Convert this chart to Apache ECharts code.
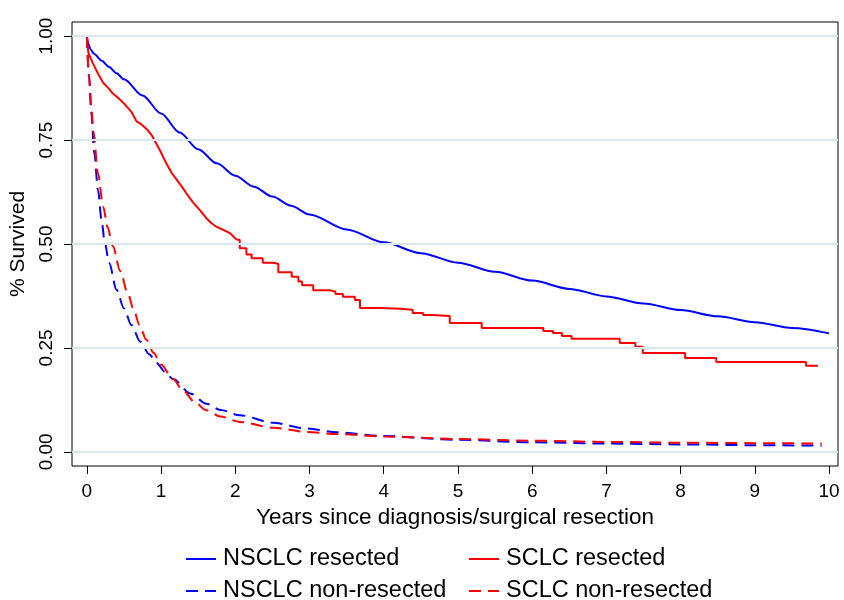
<!DOCTYPE html>
<html>
<head>
<meta charset="utf-8">
<script src="https://cdn.jsdelivr.net/npm/echarts@6/dist/echarts.min.js"></script>
<style>
  html, body { margin: 0; padding: 0; background: #fff; }
  #container { width: 844px; height: 600px; }
</style>
</head>
<body>
<div id="container"></div>
<script>
// 生存曲线数据
var xTicks = [0, 1, 2, 3, 4, 5, 6, 7, 8, 9, 10];
var yTicks = [0, 0.25, 0.5, 0.75, 1];

// NSCLC resected
var nsclcResX = [0, 0.02, 0.05, 0.1, 0.2, 0.3, 0.4, 0.5, 0.75, 1.0, 1.25, 1.5, 1.75, 2.0, 2.25, 2.5, 2.75, 3.0, 3.5, 4.0, 4.5, 5.0, 5.5, 6.0, 6.5, 7.0, 7.5, 8.0, 8.5, 9.0, 9.5, 10.0];
var nsclcResY = [1.0, 0.982, 0.968, 0.957, 0.941, 0.926, 0.911, 0.896, 0.857, 0.814, 0.768, 0.728, 0.694, 0.664, 0.638, 0.614, 0.592, 0.571, 0.535, 0.504, 0.478, 0.455, 0.433, 0.412, 0.392, 0.374, 0.357, 0.341, 0.326, 0.312, 0.298, 0.285];

// SCLC resected: 前段 (细小台阶, 画成折线)
var sclcResEarlyX = [0, 0.02, 0.08, 0.15, 0.22, 0.3, 0.35, 0.42, 0.49, 0.55, 0.6, 0.67, 0.74, 0.82, 0.88, 0.94, 1.0, 1.07, 1.14, 1.21, 1.28, 1.34, 1.43, 1.52, 1.61, 1.68, 1.75, 1.85, 1.93, 2.02];
var sclcResEarlyY = [1.0, 0.96, 0.935, 0.91, 0.888, 0.873, 0.862, 0.852, 0.84, 0.828, 0.818, 0.795, 0.787, 0.774, 0.76, 0.74, 0.72, 0.694, 0.672, 0.655, 0.638, 0.622, 0.6, 0.582, 0.562, 0.55, 0.541, 0.533, 0.526, 0.51];
// SCLC resected: 后段 (阶梯)
var sclcResLateX = [2.02, 2.06, 2.15, 2.22, 2.37, 2.52, 2.58, 2.76, 2.85, 2.9, 3.05, 3.27, 3.35, 3.45, 3.61, 3.68, 3.95, 4.22, 4.39, 4.53, 4.65, 4.89, 5.32, 6.15, 6.28, 6.4, 6.53, 7.18, 7.39, 7.49, 8.06, 8.48, 9.69, 9.85];
var sclcResLateY = [0.51, 0.49, 0.475, 0.466, 0.455, 0.452, 0.432, 0.421, 0.41, 0.401, 0.389, 0.385, 0.38, 0.373, 0.365, 0.346, 0.344, 0.342, 0.334, 0.329, 0.327, 0.31, 0.298, 0.291, 0.286, 0.279, 0.272, 0.262, 0.253, 0.238, 0.226, 0.216, 0.207, 0.207];

// NSCLC non-resected
var nsclcNonX = [0, 0.03, 0.06, 0.1, 0.15, 0.2, 0.24, 0.3, 0.4, 0.5, 0.6, 0.72, 0.84, 0.94, 1.05, 1.16, 1.4, 1.61, 1.8, 2.06, 2.51, 2.96, 3.37, 4, 5, 6, 7, 8, 9, 9.9];
var nsclcNonY = [1.0, 0.905, 0.815, 0.72, 0.63, 0.555, 0.505, 0.455, 0.39, 0.345, 0.305, 0.265, 0.235, 0.214, 0.193, 0.175, 0.14, 0.116, 0.101, 0.088, 0.07, 0.056, 0.047, 0.038, 0.029, 0.023, 0.02, 0.018, 0.016, 0.015];

// SCLC non-resected
var sclcNonX = [0, 0.03, 0.06, 0.09, 0.15, 0.22, 0.28, 0.35, 0.45, 0.55, 0.63, 0.71, 0.8, 0.9, 1.0, 1.16, 1.3, 1.45, 1.61, 1.8, 2.06, 2.51, 2.96, 3.37, 4, 5, 6, 7, 8, 9, 9.9];
var sclcNonY = [1.0, 0.9, 0.83, 0.77, 0.67, 0.59, 0.54, 0.495, 0.435, 0.382, 0.343, 0.305, 0.27, 0.238, 0.21, 0.175, 0.147, 0.12, 0.1, 0.085, 0.072, 0.058, 0.048, 0.043, 0.037, 0.031, 0.027, 0.024, 0.022, 0.021, 0.02];

function pairs(xs, ys) {
    var out = [];
    for (var i = 0; i < xs.length; i++) {
        out.push([xs[i], ys[i]]);
    }
    return out;
}

var FONT = '"Liberation Sans", Arial, sans-serif';
var BLUE = '#0000ff';
var RED = '#ff0000';

// 图例: 2x2, 每个图例只放一项, 避免自动换行
function legendAt(name, left, top) {
    return {
        left: left, top: top, padding: 0,
        itemWidth: 30, itemHeight: 14,
        itemStyle: {color: 'rgba(0,0,0,0)', borderColor: 'rgba(0,0,0,0)', borderWidth: 0},
        textStyle: {fontSize: 23.5, lineHeight: 18, color: '#000', fontFamily: FONT, padding: [0, 0, 0, 2]},
        data: [name]
    };
}

var dom = document.getElementById("container");
var myChart = echarts.init(dom, null, {renderer: 'canvas'});
var option = {
    animation: false,
    textStyle: {fontFamily: FONT, color: '#000'},
    grid: {
        left: 72, top: 22, right: 6, bottom: 134,
        show: true, borderColor: '#000', borderWidth: 1, backgroundColor: 'transparent'
    },
    legend: [
        legendAt('NSCLC resected', 185, 547),
        legendAt('NSCLC non-resected', 185, 579),
        legendAt('SCLC resected', 468, 547),
        legendAt('SCLC non-resected', 468, 579)
    ],
    xAxis: {
        type: 'value',
        min: -0.2,
        max: 10.12,
        name: 'Years since diagnosis/surgical resection',
        nameLocation: 'middle',
        nameGap: 36,
        nameTextStyle: {fontSize: 22.5, color: '#000', fontFamily: FONT},
        axisLine: {show: false, onZero: false},
        axisTick: {show: true, customValues: xTicks, length: 8, lineStyle: {color: '#000'}},
        axisLabel: {customValues: xTicks, fontSize: 19, color: '#000', margin: 16, fontFamily: FONT},
        splitLine: {show: false}
    },
    yAxis: {
        type: 'value',
        min: -0.034,
        max: 1.034,
        name: '% Survived',
        nameLocation: 'middle',
        nameGap: 40,
        nameTextStyle: {fontSize: 21, color: '#000', fontFamily: FONT},
        axisLine: {show: false, onZero: false},
        axisTick: {show: true, customValues: yTicks, length: 8, lineStyle: {color: '#000'}},
        axisLabel: {
            customValues: yTicks, rotate: 90, fontSize: 19, color: '#000', margin: 16, fontFamily: FONT,
            formatter: function (v) { return v.toFixed(2); }
        },
        splitLine: {show: false}
    },
    series: [
        {
            // 网格线
            name: 'grid',
            type: 'line',
            data: [],
            z: 1,
            silent: true,
            markLine: {
                silent: true,
                symbol: ['none', 'none'],
                label: {show: false},
                lineStyle: {color: '#d6e7ee', width: 2, type: 'solid'},
                data: yTicks.map(function (v) { return {yAxis: v}; })
            }
        },
        {
            name: 'NSCLC resected',
            type: 'line',
            z: 3,
            data: pairs(nsclcResX, nsclcResY),
            showSymbol: false, symbol: 'none',
            smooth: 0.3, smoothMonotone: 'x',
            lineStyle: {color: BLUE, width: 2},
            itemStyle: {color: BLUE}
        },
        {
            name: 'NSCLC non-resected',
            type: 'line',
            z: 2,
            data: pairs(nsclcNonX, nsclcNonY),
            showSymbol: false, symbol: 'none',
            smooth: 0.3, smoothMonotone: 'x',
            lineStyle: {color: BLUE, width: 2, type: [12, 7]},
            itemStyle: {color: BLUE}
        },
        {
            name: 'SCLC resected',
            type: 'line',
            z: 3,
            data: pairs(sclcResEarlyX, sclcResEarlyY),
            showSymbol: false, symbol: 'none',
            lineStyle: {color: RED, width: 2},
            itemStyle: {color: RED}
        },
        {
            name: 'SCLC resected',
            type: 'line',
            z: 3,
            data: pairs(sclcResLateX, sclcResLateY),
            showSymbol: false, symbol: 'none',
            step: 'end',
            lineStyle: {color: RED, width: 2},
            itemStyle: {color: RED}
        },
        {
            name: 'SCLC non-resected',
            type: 'line',
            z: 2,
            data: pairs(sclcNonX, sclcNonY),
            showSymbol: false, symbol: 'none',
            smooth: 0.3, smoothMonotone: 'x',
            lineStyle: {color: RED, width: 2, type: [12, 7]},
            itemStyle: {color: RED}
        }
    ]
};
myChart.setOption(option, true);
</script>
</body>
</html>
